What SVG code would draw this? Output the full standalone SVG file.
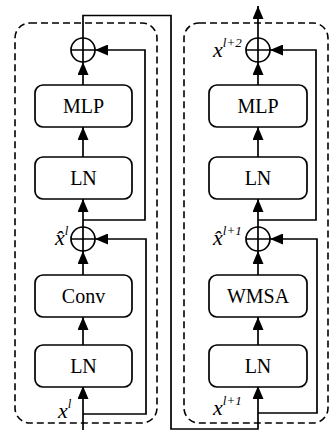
<svg xmlns="http://www.w3.org/2000/svg" width="330" height="430" viewBox="0 0 330 430">
<defs>
<marker id="ah" viewBox="0 0 13 11" refX="13" refY="5.5" markerWidth="13" markerHeight="11" orient="auto" markerUnits="userSpaceOnUse"><path d="M0,0 L13,5.5 L0,11 z" fill="#000"/></marker>
<style>
.box{fill:#fff;stroke:#000;stroke-width:1.7}
.dash{fill:none;stroke:#000;stroke-width:1.6;stroke-dasharray:7,4}
.c{fill:none;stroke:#000;stroke-width:1.7}
.a{marker-end:url(#ah)}
.t{font-family:"Liberation Serif","Times New Roman",serif;font-size:20px;text-anchor:middle}
.v{font-family:"Liberation Serif","Times New Roman",serif;font-style:italic;font-size:22px}
.s{font-size:13px}
.add{fill:#fff;stroke:#000;stroke-width:1.7}
</style>
</defs>
<g id="frames">
<rect class="dash" x="15" y="23" width="142" height="400" rx="15"/>
<rect class="dash" x="184" y="23" width="144" height="400" rx="15"/>
</g>
<g id="connectors">
<path class="c a" d="M83,430 V386"/>
<path class="c a" d="M83,345 V317"/>
<path class="c a" d="M83,275 V251"/>
<path class="c a" d="M83,227 V199"/>
<path class="c a" d="M83,157 V127"/>
<path class="c a" d="M83,85 V62"/>
<path class="c a" d="M83,38 V15.5 H171 V429 H258 V386"/>
<path class="c a" d="M83,414 H146 V239 H95"/>
<path class="c a" d="M83,220 H145 V50 H95"/>
<path class="c a" d="M258,345 V317"/>
<path class="c a" d="M258,275 V251"/>
<path class="c a" d="M258,227 V199"/>
<path class="c a" d="M258,157 V127"/>
<path class="c a" d="M258,85 V62"/>
<path class="c a" d="M258,38 V6"/>
<path class="c a" d="M258,413 H317 V239 H270"/>
<path class="c a" d="M258,220 H316 V50 H270"/>
</g>
<g id="mlp1"><rect class="box" x="35" y="85" width="97" height="42" rx="8"/><text class="t" x="83.5" y="113">MLP</text></g>
<g id="ln2"><rect class="box" x="35" y="157" width="97" height="42" rx="8"/><text class="t" x="83.5" y="185">LN</text></g>
<g id="conv"><rect class="box" x="35" y="275" width="97" height="42" rx="8"/><text class="t" x="83.5" y="303">Conv</text></g>
<g id="ln1"><rect class="box" x="35" y="345" width="97" height="42" rx="8"/><text class="t" x="83.5" y="373">LN</text></g>
<g id="mlp2"><rect class="box" x="209" y="85" width="98" height="42" rx="8"/><text class="t" x="258" y="113">MLP</text></g>
<g id="ln4"><rect class="box" x="209" y="157" width="98" height="42" rx="8"/><text class="t" x="258" y="185">LN</text></g>
<g id="wmsa"><rect class="box" x="209" y="275" width="98" height="42" rx="8"/><text class="t" x="258" y="303">WMSA</text></g>
<g id="ln3"><rect class="box" x="209" y="345" width="98" height="42" rx="8"/><text class="t" x="258" y="373">LN</text></g>
<g id="add1"><circle class="add" cx="83" cy="239" r="12"/><path class="c" d="M71,239 H95 M83,227 V251"/></g>
<g id="add2"><circle class="add" cx="83" cy="50" r="12"/><path class="c" d="M71,50 H95 M83,38 V62"/></g>
<g id="add3"><circle class="add" cx="258" cy="239" r="12"/><path class="c" d="M246,239 H270 M258,227 V251"/></g>
<g id="add4"><circle class="add" cx="258" cy="50" r="12"/><path class="c" d="M246,50 H270 M258,38 V62"/></g>
<g id="labels">
<text class="v" x="58" y="418">x<tspan class="s" dy="-10">l</tspan></text>
<text class="v" x="55" y="245">x̂<tspan class="s" dy="-10">l</tspan></text>
<text class="v" x="213" y="415">x<tspan class="s" dy="-10">l+1</tspan></text>
<text class="v" x="213" y="245">x̂<tspan class="s" dy="-10">l+1</tspan></text>
<text class="v" x="213" y="57">x<tspan class="s" dy="-10">l+2</tspan></text>
</g>
</svg>
